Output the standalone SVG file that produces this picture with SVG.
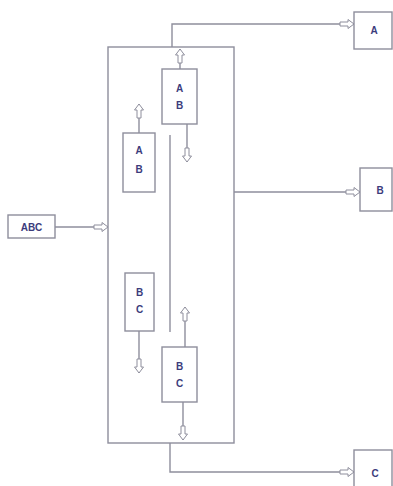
<svg xmlns="http://www.w3.org/2000/svg" width="393" height="486" viewBox="0 0 393 486">
<defs>
<style>
.box{fill:#fff;stroke:#8e8e9c;stroke-width:1.4}
.frame{fill:none;stroke:#8e8e9c;stroke-width:1.4}
.ln{fill:none;stroke:#8e8e9c;stroke-width:1.4}
.arr{marker-end:url(#ha)}
text{font-family:"Liberation Sans",Arial,sans-serif;font-weight:bold;font-size:10px;fill:#3c3c7c;text-anchor:middle}
</style>
<marker id="ha" markerUnits="userSpaceOnUse" markerWidth="18" markerHeight="12" refX="15" refY="6" orient="auto" overflow="visible">
<path d="M1,4 L9,4 L9,1.5 L15,6 L9,10.5 L9,8 L1,8 Z" fill="#fff" stroke="#8e8e9c" stroke-width="1"/>
</marker>
</defs>
<rect width="393" height="486" fill="#fff"/>
<g id="container"><rect class="frame" x="108" y="47" width="126" height="396"/></g>
<g id="connectors">
<path class="ln arr" d="M55,227 H108"/>
<path class="ln arr" d="M172,47 V24 H354"/>
<path class="ln arr" d="M234,192 H360"/>
<path class="ln arr" d="M170,443 V472 H354"/>
<path class="ln arr" d="M180,69 V49"/>
<path class="ln arr" d="M187,124 V162"/>
<path class="ln arr" d="M139,133 V104"/>
<path class="ln arr" d="M139,331 V373"/>
<path class="ln arr" d="M185,347 V307"/>
<path class="ln arr" d="M183,402 V440"/>
<path class="ln" d="M170,135 V332"/>
</g>
<g id="ABC"><rect class="box" x="8" y="215" width="47" height="23"/><text x="31.5" y="230.5">ABC</text></g>
<g id="AB-top"><rect class="box" x="162" y="69" width="35" height="55"/><text x="179.5" y="92">A</text><text x="179.5" y="109">B</text></g>
<g id="AB-left"><rect class="box" x="123" y="133" width="32" height="59"/><text x="139" y="154">A</text><text x="139" y="173">B</text></g>
<g id="BC-left"><rect class="box" x="125" y="273" width="29" height="58"/><text x="139.5" y="296">B</text><text x="139.5" y="313">C</text></g>
<g id="BC-right"><rect class="box" x="162" y="347" width="35" height="55"/><text x="179.5" y="370">B</text><text x="179.5" y="387">C</text></g>
<g id="A"><rect class="box" x="354" y="12" width="38" height="37"/><text x="374" y="34">A</text></g>
<g id="B"><rect class="box" x="360" y="168" width="32" height="43"/><text x="380" y="194">B</text></g>
<g id="C"><rect class="box" x="354" y="450" width="38" height="40"/><text x="375" y="477">C</text></g>
</svg>
